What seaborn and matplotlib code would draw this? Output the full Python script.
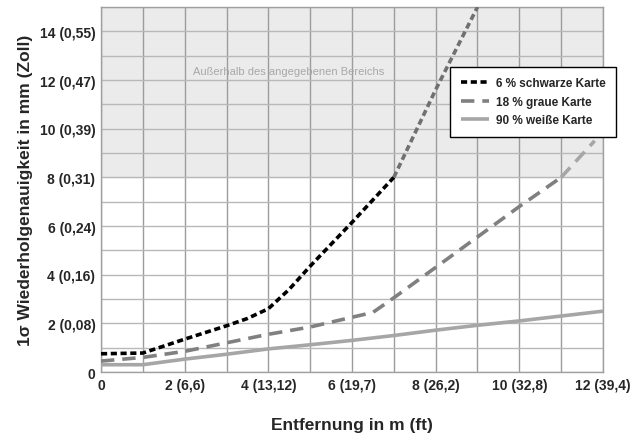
import pandas as pd
import matplotlib.pyplot as plt
import seaborn as sns

# Werte
dist_schwarz = [0, 1, 2, 3, 3.5, 4, 4.5, 5, 6, 7, 8, 9]
wert_schwarz = [0.75, 0.78, 1.35, 1.9, 2.2, 2.6, 3.4, 4.35, 6.15, 8.0, 11.6, 15.0]

dist_grau = [0, 1, 2, 3, 4, 5, 6, 6.5, 7, 8, 9, 10, 11, 11.8]
wert_grau = [0.45, 0.6, 0.85, 1.2, 1.55, 1.85, 2.25, 2.45, 3.05, 4.3, 5.55, 6.8, 8.0, 9.5]

dist_weiss = [0, 1, 2, 3, 4, 5, 6, 7, 8, 9, 10, 11, 12]
wert_weiss = [0.3, 0.3, 0.53, 0.73, 0.95, 1.12, 1.3, 1.5, 1.72, 1.92, 2.1, 2.3, 2.5]

x_ticks = [0, 2, 4, 6, 8, 10, 12]
x_labels = ['0', '2 (6,6)', '4 (13,12)', '6 (19,7)', '8 (26,2)', '10 (32,8)', '12 (39,4)']
y_ticks = [0, 2, 4, 6, 8, 10, 12, 14]
y_labels = ['0', '2 (0,08)', '4 (0,16)', '6 (0,24)', '8 (0,31)', '10 (0,39)', '12 (0,47)', '14 (0,55)']

grenze = 8  # ab hier ausserhalb des angegebenen Bereichs

sns.set_style('white')
plt.rcParams['font.family'] = ['Liberation Sans', 'DejaVu Sans']

fig = plt.figure(figsize=(6.41, 4.35), dpi=100)
ax = fig.add_axes([0.1576, 0.1425, 0.9407 - 0.1576, 0.9816 - 0.1425])

ax.axhspan(grenze, 15, color='#ebebeb', zorder=0)

# Raster
for xv in range(0, 13):
    ax.axvline(xv, color='#9c9c9c', lw=1, zorder=1)
for yv in range(0, 16):
    ax.axhline(yv, color='#b8b8b8', lw=1, zorder=1)


def split(dist, wert):
    df = pd.DataFrame({'Entfernung': dist, 'Wert': wert})
    innen = df[df['Wert'] <= grenze]
    aussen = df[df['Wert'] >= grenze]
    return innen, aussen


s_in, s_out = split(dist_schwarz, wert_schwarz)
g_in, g_out = split(dist_grau, wert_grau)
w = pd.DataFrame({'Entfernung': dist_weiss, 'Wert': wert_weiss})

lw = 2.6
sns.lineplot(data=w, x='Entfernung', y='Wert', ax=ax, color='#a6a6a6', lw=lw,
             solid_capstyle='butt', zorder=3, label='90 % weiße Karte')
sns.lineplot(data=g_in, x='Entfernung', y='Wert', ax=ax, color='#808080', lw=lw,
             dashes=(3.7, 2.2), zorder=3, label='18 % graue Karte')
sns.lineplot(data=g_out, x='Entfernung', y='Wert', ax=ax, color='#a6a6a6', lw=lw,
             dashes=(3.7, 2.2), zorder=3)
sns.lineplot(data=s_in, x='Entfernung', y='Wert', ax=ax, color='black', lw=lw,
             dashes=(1.7, 1.0), zorder=4, label='6 % schwarze Karte')
sns.lineplot(data=s_out, x='Entfernung', y='Wert', ax=ax, color='#707070', lw=lw,
             dashes=(1.7, 1.0), zorder=4)

ax.text(4.48, 12.35, 'Außerhalb des angegebenen Bereichs', color='#a8a8a8',
        fontsize=8, ha='center', va='center')

ax.set_xlim(0, 12)
ax.set_ylim(0, 15)
ax.set_xticks(x_ticks)
ax.set_xticklabels(x_labels, fontsize=10, fontweight='bold')
ax.set_yticks(y_ticks)
ax.set_yticklabels(y_labels, fontsize=10, fontweight='bold')
ax.tick_params(length=0, pad=4)
ax.set_xlabel('Entfernung in m (ft)', fontsize=12.5, fontweight='bold', labelpad=18)
ax.set_ylabel('1σ Wiederholgenauigkeit in mm (Zoll)', fontsize=12.5, fontweight='bold', labelpad=5)

for sp in ax.spines.values():
    sp.set_color('#a0a0a0')
    sp.set_linewidth(1)

handles, labels = ax.get_legend_handles_labels()
order = [labels.index('6 % schwarze Karte'), labels.index('18 % graue Karte'),
         labels.index('90 % weiße Karte')]
leg = ax.legend([handles[i] for i in order], [labels[i] for i in order],
                loc='upper left', bbox_to_anchor=(0.695, 0.836), borderaxespad=0,
                fancybox=False, frameon=True, edgecolor='black', framealpha=1,
                handlelength=2.4, handletextpad=0.6, borderpad=0.9, labelspacing=0.55,
                prop={'weight': 'bold', 'size': 8.5})
leg.get_frame().set_linewidth(1)
leg.set_zorder(5)

fig.savefig('out.png', dpi=100)
